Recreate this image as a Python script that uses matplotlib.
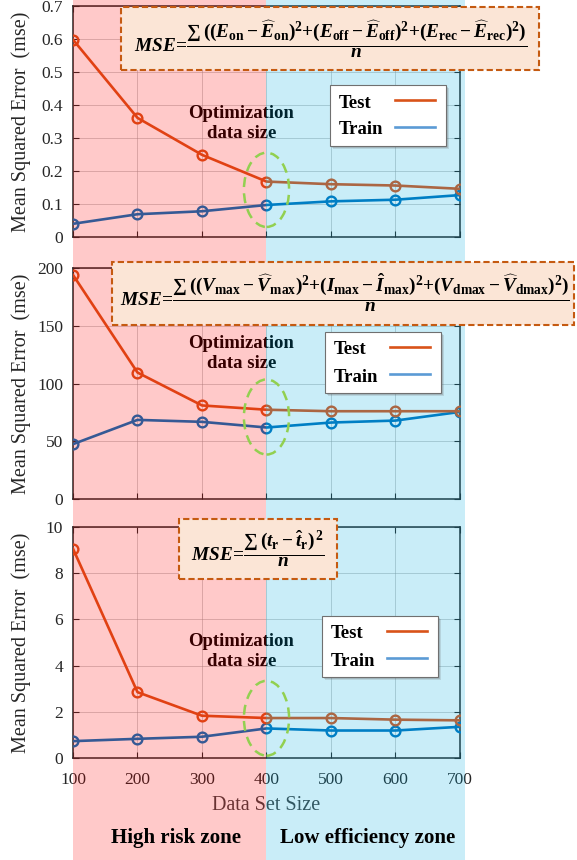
import matplotlib
matplotlib.use('Agg')
import matplotlib.pyplot as plt
import matplotlib.transforms as mtransforms
from matplotlib.patches import Rectangle, Ellipse
from matplotlib.lines import Line2D
from matplotlib.ticker import FuncFormatter

plt.rcParams['font.family'] = 'Liberation Serif'
plt.rcParams['mathtext.fontset'] = 'custom'
plt.rcParams['mathtext.rm'] = 'Liberation Serif:bold'
plt.rcParams['mathtext.it'] = 'Liberation Serif:bold:italic'
plt.rcParams['mathtext.bf'] = 'Liberation Serif:bold'

# data
sizes = [100, 200, 300, 400, 500, 600, 700]

energy_test = [0.598, 0.361, 0.249, 0.168, 0.160, 0.156, 0.146]
energy_train = [0.040, 0.069, 0.078, 0.097, 0.108, 0.113, 0.127]

volt_test = [194.0, 109.5, 81.0, 77.3, 76.0, 76.0, 76.0]
volt_train = [47.5, 68.5, 66.8, 61.9, 66.2, 67.9, 75.4]

time_test = [9.06, 2.85, 1.83, 1.73, 1.73, 1.66, 1.63]
time_train = [0.73, 0.83, 0.92, 1.28, 1.19, 1.19, 1.35]

yticks_energy = [0, 0.1, 0.2, 0.3, 0.4, 0.5, 0.6, 0.7]
yticks_volt = [0, 50, 100, 150, 200]
yticks_time = [0, 2, 4, 6, 8, 10]

series_names = ['Test', 'Train']

f_energy = (r'$MSE\!=\!\dfrac{\sum\,((E_{\mathrm{on}}-\widehat{E}_{\mathrm{on}})^2'
            r'{+}(E_{\mathrm{off}}-\widehat{E}_{\mathrm{off}})^2'
            r'{+}(E_{\mathrm{rec}}-\widehat{E}_{\mathrm{rec}})^2)}{n}$')
f_volt = (r'$MSE\!=\!\dfrac{\sum\,((V_{\mathrm{max}}-\widehat{V}_{\mathrm{max}})^2'
          r'{+}(I_{\mathrm{max}}-\hat{I}_{\mathrm{max}})^2'
          r'{+}(V_{\mathrm{dmax}}-\widehat{V}_{\mathrm{dmax}})^2)}{n}$')
f_time = r'$MSE\!=\!\dfrac{\sum\,(t_{\mathrm{r}}-\hat{t}_{\mathrm{r}})^{\,2}}{n}$'

W, H = 577, 860
C_TEST = '#d95319'
C_TRAIN = '#0072bd'
C_TRAIN_LEG = '#5b9bd5'

fig = plt.figure(figsize=(W / 100, H / 100), dpi=100)


def fig_rect(l, t, r, b):
    return [l / W, 1 - b / H, (r - l) / W, (b - t) / H]


def add_rect(l, t, r, b, **kw):
    fig.add_artist(Rectangle((l / W, 1 - b / H), (r - l) / W, (b - t) / H,
                             transform=fig.transFigure, **kw))


def add_legend(lx, ly):
    # box drawn by hand so the labels sit left-aligned with the lines on the right
    add_rect(lx + 3, ly + 3, lx + 119, ly + 64, fc='#606060', alpha=0.18, lw=0, zorder=6)
    add_rect(lx + 2, ly + 2, lx + 118, ly + 63, fc='#606060', alpha=0.22, lw=0, zorder=6)
    add_rect(lx, ly, lx + 116, ly + 61, fc='white', ec='#707070', lw=0.8, zorder=7)
    for k, (name, col) in enumerate(zip(series_names, [C_TEST, C_TRAIN_LEG])):
        yy = ly + 15 + 27 * k
        fig.text((lx + 9) / W, 1 - (yy + 1) / H, name, ha='left', va='center_baseline', fontsize=13.5,
                 fontweight='bold', zorder=8)
        fig.add_artist(Line2D([(lx + 65) / W, (lx + 105) / W], [1 - yy / H, 1 - yy / H],
                              transform=fig.transFigure, color=col, lw=1.9, zorder=8))


panels = [
    dict(test=energy_test, train=energy_train, ticks=yticks_energy, box=(73, 6, 460, 237),
         fbox=(121, 7, 539, 70), fpos=(331, 39), formula=f_energy,
         opt_y=0.345, ell=(0.143, 0.225), leg=(330, 85)),
    dict(test=volt_test, train=volt_train, ticks=yticks_volt, box=(73, 268, 460, 499),
         fbox=(112, 262, 574, 325), fpos=(345, 293), formula=f_volt,
         opt_y=126, ell=(71, 65), leg=(325, 332)),
    dict(test=time_test, train=time_train, ticks=yticks_time, box=(73, 527, 460, 758),
         fbox=(179, 519, 337, 579), fpos=(258, 549), formula=f_time,
         opt_y=4.6, ell=(1.72, 3.24), leg=(322, 616)),
]

axes = []
for i, p in enumerate(panels):
    ax = fig.add_axes(fig_rect(*p['box']))
    axes.append(ax)
    ax.plot(sizes, p['train'], color=C_TRAIN, lw=1.9, marker='o', ms=7, mfc='none', mew=1.7, zorder=3)
    ax.plot(sizes, p['test'], color=C_TEST, lw=1.9, marker='o', ms=7, mfc='none', mew=1.7, zorder=4)
    ax.set_xlim(100, 700)
    ax.set_ylim(p['ticks'][0], p['ticks'][-1])
    ax.set_xticks(sizes)
    ax.set_yticks(p['ticks'])
    ax.yaxis.set_major_formatter(FuncFormatter(lambda v, pos: '%g' % v))
    ax.set_axisbelow(True)
    ax.grid(True, color='#9a9a9a', lw=0.7, alpha=0.45)
    ax.tick_params(direction='in', top=True, right=True, length=4, width=0.8,
                   labelsize=12.5, colors='#262626', pad=7)
    ax.tick_params(axis='x', labelbottom=(i == 2), pad=10)
    for s in ax.spines.values():
        s.set_color('#262626')
        s.set_linewidth(1.1)
    ax.set_ylabel('Mean Squared Error  (mse)', fontsize=14.5, color='#262626')
    ax.yaxis.set_label_coords(-0.108, 0.5)
    ax.text(361, p['opt_y'], 'Optimization\ndata size', ha='center', va='center',
            fontsize=13.5, fontweight='bold', linespacing=1.25, zorder=5)

    fig.add_artist(Ellipse((400, p['ell'][0]), width=70, height=p['ell'][1], transform=ax.transData,
                           fill=False, ec='#92d050', lw=1.8, ls=(0, (4, 2.5)), zorder=5))

    add_rect(*p['fbox'], fc='#fbe5d6', ec='#c55a11', lw=1.5, ls=(0, (3, 1.5)), zorder=4)
    fig.text(p['fpos'][0] / W, 1 - p['fpos'][1] / H, p['formula'], ha='center', va='center',
             fontsize=13.9, zorder=5)

    add_legend(*p['leg'])

axes[2].set_xlabel('Data Set Size', fontsize=14.5, color='#404040', labelpad=6)

# zone shading laid over the whole figure
zone_tr = mtransforms.blended_transform_factory(axes[2].transData, fig.transFigure)
fig.add_artist(Rectangle((100, 0), 300, 1, transform=zone_tr, fc='#ff0000', alpha=0.21, lw=0, zorder=2))
fig.add_artist(Rectangle((400, 0), 308, 1, transform=zone_tr, fc='#00aee2', alpha=0.21, lw=0, zorder=2))

fig.text(176 / W, 1 - 838 / H, 'High risk zone', ha='center', va='center', fontsize=15,
         fontweight='bold', zorder=5)
fig.text(368 / W, 1 - 838 / H, 'Low efficiency zone', ha='center', va='center', fontsize=15,
         fontweight='bold', zorder=5)

fig.savefig('out.png', dpi=100)
